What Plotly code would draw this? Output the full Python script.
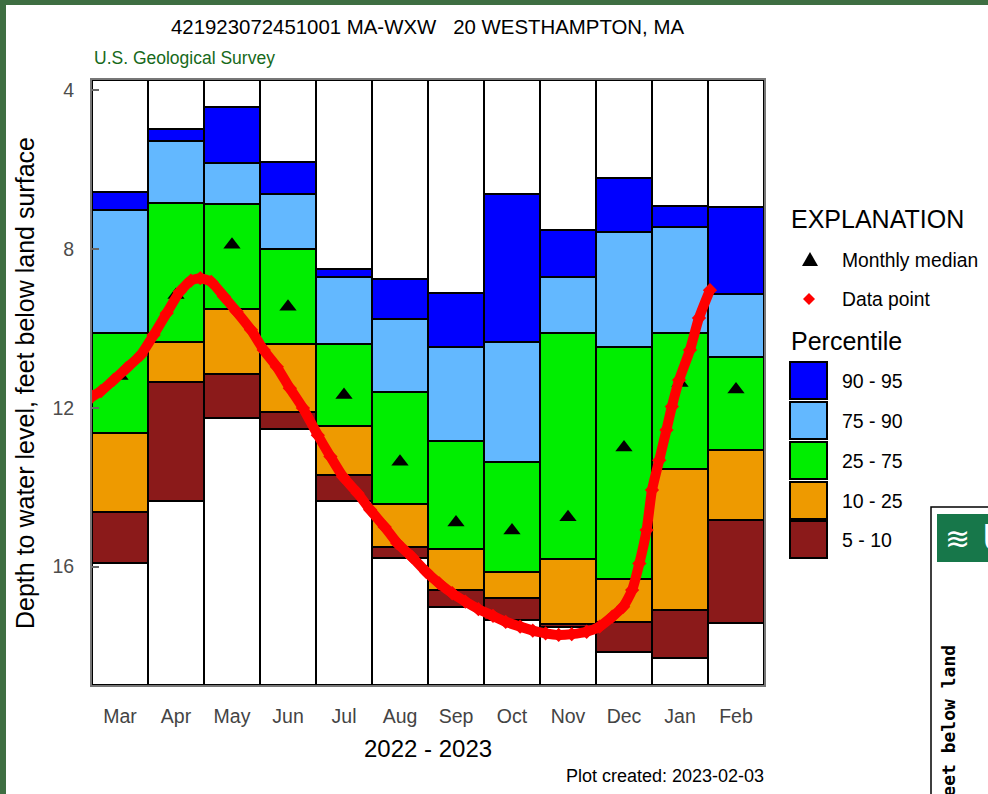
import calendar
import plotly.graph_objects as go

# monthly percentile levels, feet below land surface
months = ["Mar", "Apr", "May", "Jun", "Jul", "Aug", "Sep", "Oct", "Nov", "Dec", "Jan", "Feb"]
p95 = [6.56, 4.99, 4.44, 5.82, 8.51, 8.77, 9.12, 6.63, 7.52, 6.22, 6.91, 6.95]
p90 = [7.02, 5.28, 5.85, 6.63, 8.70, 9.77, 10.48, 10.35, 8.72, 7.57, 7.44, 9.13]
p75 = [10.13, 6.85, 6.87, 8.01, 10.40, 11.60, 12.84, 13.37, 10.11, 10.46, 10.12, 10.72]
p25 = [12.64, 10.34, 9.52, 10.40, 12.45, 14.42, 15.55, 16.14, 15.80, 16.31, 13.55, 13.06]
p10 = [14.62, 11.36, 11.16, 12.10, 13.69, 15.50, 16.58, 16.80, 17.44, 17.39, 17.10, 14.83]
p05 = [15.90, 14.34, 12.27, 12.53, 14.35, 15.78, 17.02, 17.35, 17.51, 18.14, 18.29, 17.41]
medians = [11.20, 9.16, 7.90, 9.46, 11.68, 13.36, 14.89, 15.09, 14.76, 13.00, 11.38, 11.54]

# water level observations 2022-03 .. 2023-02
obs_dates = ["2022-03-01", "2022-03-06", "2022-03-13", "2022-03-20", "2022-03-28",
             "2022-04-04", "2022-04-11", "2022-04-18", "2022-04-24", "2022-04-29",
             "2022-05-05", "2022-05-12", "2022-05-19", "2022-05-27",
             "2022-06-03", "2022-06-10", "2022-06-17", "2022-06-24",
             "2022-07-02", "2022-07-09", "2022-07-16", "2022-07-24", "2022-07-31",
             "2022-08-08", "2022-08-15", "2022-08-23", "2022-08-31",
             "2022-09-07", "2022-09-14", "2022-09-21", "2022-09-28",
             "2022-10-06", "2022-10-13", "2022-10-21", "2022-10-28",
             "2022-11-04", "2022-11-11", "2022-11-18", "2022-11-26",
             "2022-12-03", "2022-12-10", "2022-12-16", "2022-12-21", "2022-12-25", "2022-12-29",
             "2023-01-01", "2023-01-05", "2023-01-09", "2023-01-12", "2023-01-16", "2023-01-22",
             "2023-01-27", "2023-02-02"]
obs_depth = [11.72, 11.58, 11.30, 11.01, 10.67,
             10.17, 9.62, 9.08, 8.80, 8.74,
             8.83, 9.20, 9.58, 10.04,
             10.55, 10.97, 11.51, 12.01,
             12.69, 13.23, 13.74, 14.15, 14.57,
             15.00, 15.41, 15.75, 16.13,
             16.42, 16.67, 16.88, 17.07,
             17.24, 17.39, 17.51, 17.61,
             17.68, 17.72, 17.70, 17.64,
             17.51, 17.26, 17.01, 16.59, 15.92, 15.08,
             14.07, 13.32, 12.56, 11.97, 11.30, 10.55,
             9.74, 9.04]

percentile_labels = ["90 - 95", "75 - 90", "25 - 75", "10 - 25", "5 - 10"]
colors = ["#0000FF", "#63B8FF", "#00EE00", "#EE9A00", "#8B1A1A"]

Y_TOP, Y_BOT = 3.75, 18.98
FONT = "Liberation Sans, Arial, sans-serif"


def month_pos(d):
    # month column position, each month drawn as one equal-width column
    y, m, day = (int(s) for s in d.split("-"))
    idx = (y - 2022) * 12 + m - 3
    ndays = calendar.monthrange(y, m)[1]
    return idx - 0.5 + (day - 1) / ndays


# page pixel -> paper coordinates
L, R, T, B = 92, 764, 80, 685


def px(x):
    return (x - L) / (R - L)


def py(y):
    return (B - y) / (B - T)


idx = list(range(12))
fig = go.Figure()

# white column behind each month
fig.add_trace(go.Bar(
    x=idx, base=[Y_TOP] * 12, y=[Y_BOT - Y_TOP] * 12, width=1,
    marker=dict(color="white", line=dict(color="black", width=2)),
    showlegend=False, hoverinfo="skip",
))

edges = [p95, p90, p75, p25, p10, p05]
for k, (lab, col) in enumerate(zip(percentile_labels, colors)):
    top, bot = edges[k], edges[k + 1]
    fig.add_trace(go.Bar(
        x=idx, base=top, y=[b - t for t, b in zip(top, bot)], width=1,
        marker=dict(color=col, line=dict(color="black", width=2)),
        name=lab, showlegend=False,
    ))

fig.add_trace(go.Scatter(
    x=idx, y=medians, mode="markers",
    marker=dict(symbol="triangle-up", size=15, color="black"),
    name="Monthly median", showlegend=False,
))

fig.add_trace(go.Scatter(
    x=[month_pos(d) for d in obs_dates], y=obs_depth, mode="lines+markers",
    line=dict(color="#FF0000", width=10, shape="spline", smoothing=0.6),
    marker=dict(symbol="diamond", size=11, color="#FF0000"),
    name="Data point", showlegend=False,
))

fig.update_layout(
    width=988, height=794,
    margin=dict(l=L, r=988 - R, t=T, b=794 - B),
    paper_bgcolor="white", plot_bgcolor="white",
    barmode="overlay", bargap=0,
    font=dict(family=FONT, color="black"),
    showlegend=False,
)
fig.update_xaxes(
    range=[-0.5, 11.5], tickvals=idx, ticktext=months, ticks="",
    tickfont=dict(size=19.5, color="#444444"), ticklabelstandoff=13,
    showline=True, mirror=True, linecolor="#777777", linewidth=2,
    showgrid=False, zeroline=False,
)
fig.update_yaxes(
    range=[Y_BOT, Y_TOP], tickvals=[4, 8, 12, 16], ticks="inside", ticklen=7,
    tickcolor="#666666", tickwidth=2,
    tickfont=dict(size=19.5, color="#4d4d4d"), ticklabelstandoff=12,
    showline=True, mirror=True, linecolor="#777777", linewidth=2,
    showgrid=False, zeroline=False,
)

ann = [
    dict(text="421923072451001 MA-WXW\u00a0\u00a0\u00a020 WESTHAMPTON, MA", x=px(427), y=py(27),
         font=dict(size=20.4)),
    dict(text="U.S. Geological Survey", x=px(92), y=py(58), xanchor="left",
         font=dict(size=17.5, color="#16691a")),
    dict(text="Depth to water level, feet below land surface", x=px(25), y=py(383),
         textangle=-90, font=dict(size=25)),
    dict(text="2022 - 2023", x=px(428), y=py(748), font=dict(size=24)),
    dict(text="Plot created: 2023-02-03", x=px(766), y=py(776), xanchor="right",
         font=dict(size=18)),
    dict(text="EXPLANATION", x=px(789), y=py(219), xanchor="left", font=dict(size=25)),
    dict(text="Monthly median", x=px(840), y=py(260), xanchor="left", font=dict(size=19.3)),
    dict(text="Data point", x=px(840), y=py(299), xanchor="left", font=dict(size=19.3)),
    dict(text="Percentile", x=px(789), y=py(341), xanchor="left", font=dict(size=25)),
]
shapes = []
box_tops = [362, 402, 442, 482, 521]
for lab, col, yt in zip(percentile_labels, colors, box_tops):
    shapes.append(dict(type="rect", x0=px(790), x1=px(827), y0=py(yt), y1=py(yt + 37),
                       fillcolor=col, line=dict(color="black", width=2)))
    ann.append(dict(text=lab, x=px(840), y=py(yt + 19), xanchor="left", font=dict(size=19.5)))


def path(pts):
    return "M " + " L ".join(f"{px(a):.5f},{py(b):.5f}" for a, b in pts) + " Z"


shapes.append(dict(type="path", path=path([(802, 266), (818, 266), (810, 252)]),
                   fillcolor="black", line=dict(width=0)))
shapes.append(dict(type="path", path=path([(809, 293), (815, 299), (809, 305), (803, 299)]),
                   fillcolor="#FF0000", line=dict(width=0)))

# screenshot frame and the neighbouring page peeking in at the corner
frame = "#3e6e42"
shapes.append(dict(type="rect", x0=px(0), x1=px(988), y0=py(5), y1=py(0),
                   fillcolor=frame, line=dict(width=0)))
shapes.append(dict(type="rect", x0=px(0), x1=px(6), y0=py(794), y1=py(0),
                   fillcolor=frame, line=dict(width=0)))
shapes.append(dict(type="rect", x0=px(931), x1=px(995), y0=py(800), y1=py(507),
                   fillcolor="white", line=dict(color="black", width=1.5)))
shapes.append(dict(type="rect", x0=px(937), x1=px(995), y0=py(562), y1=py(514),
                   fillcolor="#17774a", line=dict(width=0)))
ann.append(dict(text="<b>U</b>", x=px(981), y=py(538), xanchor="left",
                font=dict(size=38, color="white")))
ann.append(dict(text="≋", x=px(957), y=py(538), font=dict(size=30, color="white")))
ann.append(dict(text="<b>feet below land</b>", x=px(948), y=py(643), yanchor="top",
                textangle=-90, font=dict(size=18, family="DejaVu Sans Mono, monospace")))

for a in ann:
    a.setdefault("xref", "paper")
    a.setdefault("yref", "paper")
    a.setdefault("xanchor", "center")
    a.setdefault("yanchor", "middle")
    a.setdefault("showarrow", False)
for s in shapes:
    s.setdefault("xref", "paper")
    s.setdefault("yref", "paper")
    s.setdefault("layer", "above")

fig.update_layout(annotations=ann, shapes=shapes)
# drop the default page margin so the figure sits at the window's corner
fig.write_html("out.html", config={"displayModeBar": False},
               post_script="document.body.style.margin='0';"
                           "document.body.style.overflow='hidden';")
